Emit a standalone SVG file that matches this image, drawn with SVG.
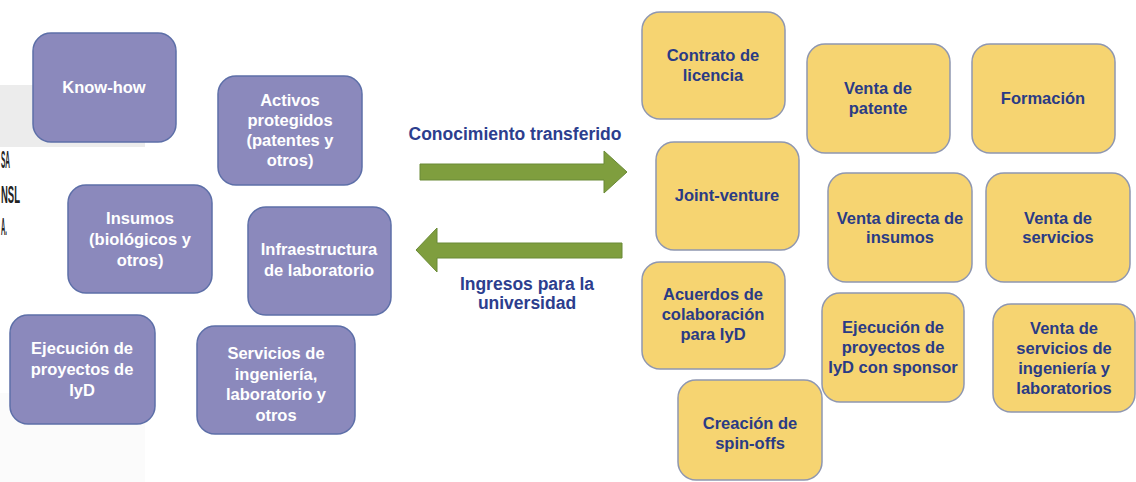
<svg xmlns="http://www.w3.org/2000/svg" width="1136" height="482" viewBox="0 0 1136 482">
<style>
.p{fill:#8b89bc;stroke:#5d6fa8;stroke-width:1.5}
.y{fill:#f6d471;stroke:#8f97b0;stroke-width:1.5}
.pt{font-family:"Liberation Sans",Arial,sans-serif;font-weight:bold;font-size:16.5px;fill:#ffffff;text-anchor:middle}
.yt{font-family:"Liberation Sans",Arial,sans-serif;font-weight:bold;font-size:16.5px;fill:#2a3b85;text-anchor:middle}
.lbl{font-family:"Liberation Sans",Arial,sans-serif;font-weight:bold;font-size:17.5px;fill:#2c3e8e;text-anchor:middle}
.arr{fill:#7f9e3e;stroke:#6a8a36;stroke-width:1}
.frag{font-family:"Liberation Sans",Arial,sans-serif;font-weight:bold;font-size:24px;fill:#222}
</style>
<rect width="1136" height="482" fill="#ffffff"/>
<rect x="0" y="85" width="145" height="62" fill="#ececec"/>
<rect x="0" y="393" width="145" height="89" fill="#fbfbfb"/>
<text class="frag" x="1" y="168" textLength="9" lengthAdjust="spacingAndGlyphs">SA</text>
<text class="frag" x="1" y="203" textLength="19" lengthAdjust="spacingAndGlyphs">NSL</text>
<text class="frag" x="1" y="235" textLength="6" lengthAdjust="spacingAndGlyphs">A.</text>

<g id="connectors">
<polygon class="arr" points="420,164 604,164 604,151 627,172 604,193 604,180 420,180"/>
<polygon class="arr" points="622,243 437,243 437,228 416,250 437,272 437,258 622,258"/>
<text class="lbl" x="515" y="140">Conocimiento transferido</text>
<text class="lbl" x="527" y="290">Ingresos para la</text>
<text class="lbl" x="527" y="309">universidad</text>
</g>

<g id="know-how"><rect class="p" x="33" y="33" width="143" height="109" rx="18"/><text class="pt" x="104" y="93">Know-how</text></g>
<g id="activos"><rect class="p" x="218" y="76" width="144" height="109" rx="18"/><text class="pt" x="290" y="106">Activos</text><text class="pt" x="290" y="126">protegidos</text><text class="pt" x="290" y="146">(patentes y</text><text class="pt" x="290" y="166">otros)</text></g>
<g id="insumos"><rect class="p" x="68" y="185" width="144" height="108" rx="18"/><text class="pt" x="140" y="224">Insumos</text><text class="pt" x="140" y="245">(biológicos y</text><text class="pt" x="140" y="266">otros)</text></g>
<g id="infraestructura"><rect class="p" x="248" y="207" width="143" height="108" rx="18"/><text class="pt" x="319" y="255">Infraestructura</text><text class="pt" x="319" y="276">de laboratorio</text></g>
<g id="ejecucion-l"><rect class="p" x="10" y="315" width="145" height="109" rx="18"/><text class="pt" x="82" y="354">Ejecución de</text><text class="pt" x="82" y="375">proyectos de</text><text class="pt" x="82" y="396">IyD</text></g>
<g id="servicios-l"><rect class="p" x="197" y="326" width="158" height="108" rx="18"/><text class="pt" x="276" y="359">Servicios de</text><text class="pt" x="276" y="380">ingeniería,</text><text class="pt" x="276" y="400">laboratorio y</text><text class="pt" x="276" y="421">otros</text></g>

<g id="contrato"><rect class="y" x="642" y="12" width="143" height="107" rx="18"/><text class="yt" x="713" y="61">Contrato de</text><text class="yt" x="713" y="81">licencia</text></g>
<g id="venta-patente"><rect class="y" x="807" y="44" width="143" height="109" rx="18"/><text class="yt" x="878" y="94">Venta de</text><text class="yt" x="878" y="114">patente</text></g>
<g id="formacion"><rect class="y" x="972" y="44" width="143" height="109" rx="18"/><text class="yt" x="1043" y="104">Formación</text></g>
<g id="joint-venture"><rect class="y" x="656" y="142" width="143" height="108" rx="18"/><text class="yt" x="727" y="201">Joint-venture</text></g>
<g id="venta-insumos"><rect class="y" x="828" y="173" width="144" height="109" rx="18"/><text class="yt" x="900" y="224">Venta directa de</text><text class="yt" x="900" y="243">insumos</text></g>
<g id="venta-servicios"><rect class="y" x="986" y="173" width="144" height="109" rx="18"/><text class="yt" x="1058" y="224">Venta de</text><text class="yt" x="1058" y="243">servicios</text></g>
<g id="acuerdos"><rect class="y" x="642" y="262" width="143" height="107" rx="18"/><text class="yt" x="713" y="300">Acuerdos de</text><text class="yt" x="713" y="320">colaboración</text><text class="yt" x="713" y="340">para IyD</text></g>
<g id="ejecucion-r"><rect class="y" x="822" y="293" width="142" height="109" rx="18"/><text class="yt" x="893" y="333">Ejecución de</text><text class="yt" x="893" y="353">proyectos de</text><text class="yt" x="893" y="373">IyD con sponsor</text></g>
<g id="venta-ingenieria"><rect class="y" x="993" y="304" width="142" height="108" rx="18"/><text class="yt" x="1064" y="334">Venta de</text><text class="yt" x="1064" y="354">servicios de</text><text class="yt" x="1064" y="374">ingeniería y</text><text class="yt" x="1064" y="394">laboratorios</text></g>
<g id="spin-offs"><rect class="y" x="678" y="380" width="144" height="100" rx="18"/><text class="yt" x="750" y="429">Creación de</text><text class="yt" x="750" y="449">spin-offs</text></g>
</svg>
